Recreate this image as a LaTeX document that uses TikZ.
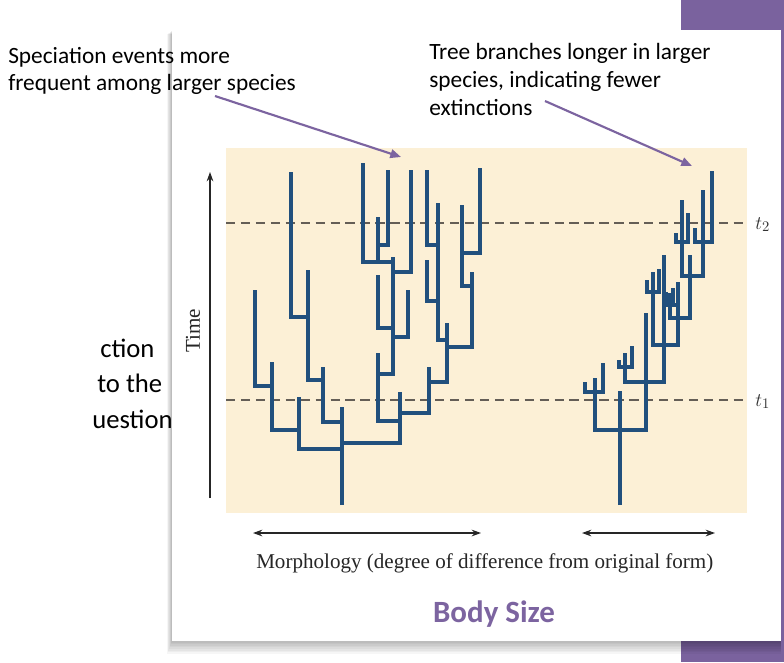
\documentclass[tikz,border=0pt]{standalone}
\usepackage{fontspec}
\setmainfont{Carlito}
\newfontfamily\serifx{Liberation Serif}
\usetikzlibrary{arrows.meta}
\definecolor{beige}{RGB}{252,240,214}
\definecolor{treeblue}{RGB}{33,80,125}
\definecolor{purp}{RGB}{124,100,160}
\definecolor{purpdark}{RGB}{122,98,158}
\definecolor{dashc}{RGB}{100,94,86}
\begin{document}
\begin{tikzpicture}[x=0.75pt,y=-0.75pt,
  tree/.style={draw=treeblue,line width=3.4pt,line join=miter,line cap=butt},
  tline/.style={draw=dashc,line width=1.1pt,dash pattern=on 7pt off 4.2pt},
  annot/.style={draw=purp,line width=1.6pt,-{Triangle[length=8pt,width=6.5pt]}},
  axisarrow/.style={draw=black!85,line width=0.9pt},
  anntext/.style={inner sep=0pt,anchor=base west,font=\fontsize{17.5}{21}\selectfont},
  bigtext/.style={inner sep=0pt,anchor=base west,font=\fontsize{20}{24}\selectfont},
  sertext/.style={inner sep=0pt,font=\serifx\fontsize{15.8}{19}\selectfont,text=black!85}]
\useasboundingbox (0,0) rectangle (784,662);
\fill[white] (0,0) rectangle (784,662);
% purple band behind the panel
\fill[purpdark] (681,0) rectangle (784,662);
% cut-off slide text at left
\node[bigtext] (l1) at (100,357) {ction};
\node[bigtext] (l2) at (97,392) {to the};
\node[bigtext] (l3) at (92,428) {uestion};
% panel shadow
\foreach \i in {1,...,8}{
  \fill[black,opacity=0.035] (172-0.6*\i,30+0.5*\i) rectangle (781,641+1.6*\i);
}
% white panel
\fill[white] (172,30) rectangle (781,641);
% beige plot area
\fill[beige] (226,148) rectangle (747,513);
% time lines
\draw[tline] (226,223) -- (748,223);
\draw[tline] (226,400) -- (748,400);
\node[inner sep=0pt,anchor=base west,font=\fontsize{15.6}{19}\selectfont,text=black!80] (t2) at (755,229) {$t_2$};
\node[inner sep=0pt,anchor=base west,font=\fontsize{15.6}{19}\selectfont,text=black!80] (t1) at (755,406) {$t_1$};
% ---------- left tree ----------
\draw[tree] (342,505) -- (342,407);
\draw[tree] (299,397) |- (342,449);
\draw[tree] (272,362) |- (299,430);
\draw[tree] (255,290) |- (272,386);
\draw[tree] (323,367) |- (342,422);
\draw[tree] (308,270) |- (323,380);
\draw[tree] (291,172) |- (308,317);
\draw[tree] (400,392) |- (342,443);
\draw[tree] (378,353) |- (400,421);
\draw[tree] (393,257) |- (378,374);
\draw[tree] (378,275) |- (393,328);
\draw[tree] (408,290) |- (393,337);
\draw[tree] (411,170) |- (393,272);
\draw[tree] (363,163) |- (393,262);
\draw[tree] (378,217) -- (378,262);
\draw[tree] (388,170) |- (378,245);
\draw[tree] (429,367) |- (400,413);
\draw[tree] (447,323) |- (429,382);
\draw[tree] (472,272) |- (447,347);
\draw[tree] (438,203) |- (447,340);
\draw[tree] (427,170) |- (438,245);
\draw[tree] (427,260) |- (438,301);
\draw[tree] (462,205) |- (472,286);
\draw[tree] (480,168) |- (462,253);
% ---------- right tree ----------
\draw[tree] (620,505) -- (620,391);
\draw[tree] (595,378) |- (620,430);
\draw[tree] (646,313) |- (620,430);
\draw[tree] (585,382) |- (603,392) -- (603,363);
\draw[tree] (625,353) |- (664,382) -- (664,255);
\draw[tree] (619,360) |- (632,367) -- (632,346);
\draw[tree] (647,280) |- (659,292) -- (659,269);
\draw[tree] (653,272) |- (678,345) -- (678,282);
\draw[tree] (666,292) |- (678,305);
\draw[tree] (673,288) -- (673,305);
\draw[tree] (670,293) |- (690,318) -- (690,255);
\draw[tree] (682,200) |- (703,276) -- (703,190);
\draw[tree] (676,233) |- (688,242) -- (688,213);
\draw[tree] (695,228) |- (712,242) -- (712,171);
% ---------- axes ----------
\coordinate (tb) at (210,498);
\coordinate (tt) at (210,172);
\draw[axisarrow,-{Stealth[length=7pt,width=5pt]}] (tb) -- (tt);
\node[sertext,rotate=90] (time) at (193,331) {Time};
\coordinate (m1a) at (253,533);
\coordinate (m1b) at (481,533);
\coordinate (m2a) at (582,533);
\coordinate (m2b) at (715,533);
\draw[axisarrow,{Stealth[length=7pt,width=5pt]}-{Stealth[length=7pt,width=5pt]}] (m1a) -- (m1b);
\draw[axisarrow,{Stealth[length=7pt,width=5pt]}-{Stealth[length=7pt,width=5pt]}] (m2a) -- (m2b);
\node[sertext,anchor=base west] (morph) at (256,568) {Morphology (degree of difference from original form)};
\node[inner sep=0pt,anchor=base,font=\bfseries\fontsize{23.2}{27}\selectfont,text=purp] (body) at (494,622) {Body Size};
% ---------- annotations ----------
\node[anntext] (sp1) at (8,63) {Speciation events more};
\node[anntext] (sp2) at (8,90.5) {frequent among larger species};
\node[anntext] (tr1) at (429,59.5) {Tree branches longer in larger};
\node[anntext] (tr2) at (429,87.5) {species, indicating fewer};
\node[anntext] (tr3) at (429,115) {extinctions};
\coordinate (a1s) at (215,96);
\coordinate (a1e) at (401,157);
\coordinate (a2s) at (545,101);
\coordinate (a2e) at (692,166);
\draw[annot] (a1s) -- (a1e);
\draw[annot] (a2s) -- (a2e);
\end{tikzpicture}
\end{document}
